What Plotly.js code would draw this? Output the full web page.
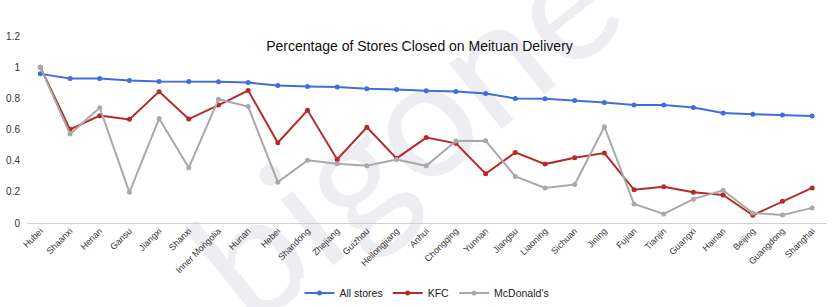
<!DOCTYPE html>
<html>
<head>
<meta charset="utf-8">
<script src="https://cdn.plot.ly/plotly-3.0.1.min.js"></script>
<style>html,body{margin:0;padding:0;background:#fff;}#chart{width:839px;height:307px;}</style>
</head>
<body>
<div id="chart"></div>
<script>
const provinces = ["Hubei","Shaanxi","Henan","Gansu","Jiangxi","Shanxi","Inner Mongolia","Hunan","Hebei","Shandong","Zhejiang","Guizhou","Heilongjiang","Anhui","Chongqing","Yunnan","Jiangsu","Liaoning","Sichuan","Jining","Fujian","Tianjin","Guangxi","Hainan","Beijing","Guangdong","Shanghai"];
const allStores = [0.957,0.927,0.927,0.914,0.908,0.908,0.906,0.901,0.882,0.876,0.872,0.861,0.857,0.848,0.844,0.831,0.799,0.797,0.786,0.773,0.758,0.758,0.741,0.706,0.698,0.693,0.687];
const kfc = [1.0,0.601,0.689,0.665,0.843,0.667,0.757,0.85,0.515,0.723,0.408,0.614,0.415,0.548,0.511,0.316,0.453,0.378,0.419,0.449,0.213,0.232,0.198,0.180,0.050,0.140,0.225];
const mcdonalds = [1.0,0.571,0.74,0.197,0.67,0.354,0.794,0.747,0.262,0.402,0.38,0.367,0.408,0.367,0.526,0.528,0.299,0.225,0.247,0.618,0.122,0.058,0.153,0.21,0.064,0.052,0.097];
const yTicks = [0,0.2,0.4,0.6,0.8,1,1.2];
const yTickText = ["0","0.2","0.4","0.6","0.8","1","1.2"];
const watermarkText = "bigone";

const font = "Liberation Sans, Arial, Helvetica, sans-serif";
function series(name, y, color) {
  return {x: provinces, y: y, name: name, type: "scatter", mode: "lines+markers",
    line: {color: color, width: 2}, marker: {color: color, size: 5}};
}
const data = [
  series("All stores", allStores, "#3f6fdc"),
  series("KFC", kfc, "#b72a2a"),
  series("McDonald's", mcdonalds, "#a9a9a9")
];

const W = 839, H = 307, M = {l: 27, r: 12, t: 36, b: 84};
const svg = '<svg xmlns="http://www.w3.org/2000/svg" width="' + W + '" height="' + H + '" viewBox="0 0 ' + W + ' ' + H + '">' +
  '<text x="420" y="185" text-anchor="middle" font-family="Lato, Noto Sans, sans-serif" font-size="165" letter-spacing="0" fill="#eeeef2" transform="rotate(-39 420 150)">' + watermarkText + '</text></svg>';
const pw = W - M.l - M.r, ph = H - M.t - M.b;

const layout = {
  width: W, height: H,
  margin: {l: M.l, r: M.r, t: M.t, b: M.b, autoexpand: false},
  paper_bgcolor: "#fff", plot_bgcolor: "rgba(0,0,0,0)",
  font: {family: font, color: "#333", size: 10},
  title: {text: "Percentage of Stores Closed on Meituan Delivery", x: 0.5, xanchor: "center", y: 0.85, yanchor: "middle", font: {family: font, size: 14, color: "#111"}},
  xaxis: {type: "category", range: [-0.45, 26.5], tickangle: -45, showgrid: false, zeroline: false, showline: false, automargin: false,
    tickfont: {family: font, size: 9, color: "#333"}, ticks: "", fixedrange: true},
  yaxis: {range: [0, 1.2], tickvals: yTicks, ticktext: yTickText, showgrid: false, zeroline: true, zerolinecolor: "#d0d0d0", zerolinewidth: 1,
    showline: false, ticks: "", automargin: false, tickfont: {family: font, size: 10, color: "#333"}, ticklabelstandoff: 6},
  images: [{source: "data:image/svg+xml;charset=utf-8," + encodeURIComponent(svg), xref: "paper", yref: "paper",
    x: -M.l / pw, y: 1 + M.t / ph, sizex: W / pw, sizey: H / ph, sizing: "stretch", xanchor: "left", yanchor: "top", layer: "below"}],
  showlegend: true,
  legend: {orientation: "h", x: 0.5, xanchor: "center", y: -0.374, yanchor: "middle", font: {family: font, size: 10.5, color: "#222"}, itemwidth: 30, tracegroupgap: 0}
};
Plotly.newPlot("chart", data, layout, {displayModeBar: false, staticPlot: true});
</script>
</body>
</html>
